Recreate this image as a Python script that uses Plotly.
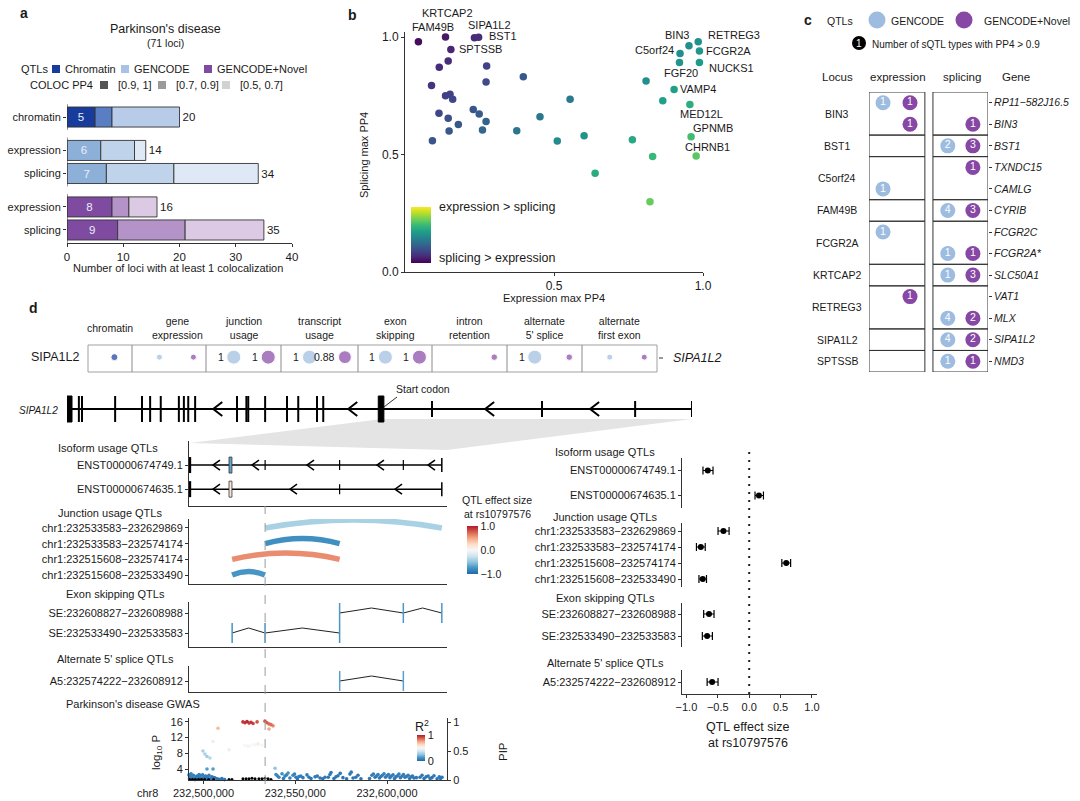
import plotly.graph_objects as go

W, H = 1080, 801
FONT = "Liberation Sans, Arial, Helvetica, sans-serif"
INK = "#1a1a1a"
AXC = "#333333"

# ======================= DATA =======================
# ---- panel a : loci with >=1 colocalization
a_rows = ["chromatin", "expression", "splicing", "expression", "splicing"]
a_qtl = ["Chromatin", "GENCODE", "GENCODE", "GENCODE+Novel", "GENCODE+Novel"]
a_pp4_09_1 = [5, 6, 7, 8, 9]
a_pp4_07_09 = [3, 6, 12, 3, 12]
a_pp4_05_07 = [12, 2, 15, 5, 14]
a_xticks = [0, 10, 20, 30, 40]
a_pp4_bins = ["[0.9, 1]", "[0.7, 0.9]", "[0.5, 0.7]"]

# ---- panel b : expression vs splicing max PP4
b_expr_pp4 = [0.045, 0.136, 0.154, 0.233, 0.247, 0.145, 0.115, 0.274, 0.272, 0.397,
              0.089, 0.136, 0.151, 0.160, 0.554, 0.229, 0.249, 0.114, 0.145, 0.272,
              0.453, 0.179, 0.148, 0.260, 0.375, 0.092, 0.511, 0.601, 0.763, 0.638,
              0.831, 0.822, 0.977, 0.960, 0.956, 0.865, 0.903, 0.809, 0.921, 0.988,
              0.923, 0.953, 0.984, 0.988]
b_spl_pp4 = [0.980, 1.000, 0.947, 0.997, 0.999, 0.898, 0.871, 0.877, 0.809, 0.831,
             0.794, 0.750, 0.756, 0.735, 0.735, 0.692, 0.672, 0.675, 0.654, 0.640,
             0.661, 0.628, 0.600, 0.604, 0.601, 0.559, 0.557, 0.580, 0.563, 0.420,
             0.491, 0.299, 0.494, 0.576, 0.713, 0.729, 0.777, 0.813, 0.892, 0.892,
             0.930, 0.963, 0.980, 0.940]
b_gene = (["FAM49B", "KRTCAP2", "SPTSSB", "SIPA1L2", "BST1"] + [""] * 27 +
          ["CHRNB1", "GPNMB", "MED12L", "", "VAMP4", "", "FGF20", "NUCKS1",
           "C5orf24", "BIN3", "RETREG3", "FCGR2A"])

# ---- panel c : number of sQTL types with PP4 > 0.9
c_gene = ["RP11\u2212582J16.5", "BIN3", "BST1", "TXNDC15", "CAMLG", "CYRIB", "FCGR2C",
          "FCGR2A*", "SLC50A1", "VAT1", "MLX", "SIPA1L2", "NMD3"]
c_locus = ["BIN3", "BIN3", "BST1", "C5orf24", "C5orf24", "FAM49B", "FCGR2A", "FCGR2A",
           "KRTCAP2", "RETREG3", "RETREG3", "SIPA1L2", "SPTSSB"]
c_expr_gencode = [1, None, None, None, 1, None, 1, None, None, None, None, None, None]
c_expr_novel = [1, 1, None, None, None, None, None, None, None, 1, None, None, None]
c_spl_gencode = [None, None, 2, None, None, 4, None, 1, 1, None, 4, 4, 1]
c_spl_novel = [None, 1, 3, 1, None, 3, None, 1, 3, None, 2, 2, 1]

# ---- panel d : SIPA1L2 colocalization by QTL type (PP4)
d_types = ["chromatin", "gene<br>expression", "junction<br>usage", "transcript<br>usage",
           "exon<br>skipping", "intron<br>retention", "alternate<br>5' splice", "alternate<br>first exon"]
d_pp4_chromatin = [0.3, None, None, None, None, None, None, None]
d_pp4_gencode = [None, 0.2, 1.0, 1.0, 1.0, None, 1.0, 0.2]
d_pp4_novel = [None, 0.2, 1.0, 0.88, 1.0, 0.25, 0.25, 0.2]

# gene model (relative position along SIPA1L2, 0-100)
gm_exons = [(0.0, 0.8), (1.9, 1.9), (2.4, 2.4), (7.7, 7.7), (12.0, 12.0), (13.3, 13.3),
            (15.0, 15.0), (17.9, 17.9), (18.7, 18.7), (19.4, 19.4), (20.5, 20.5),
            (27.2, 27.2), (28.7, 28.7), (29.0, 29.0), (31.7, 31.7), (35.2, 35.2),
            (37.0, 37.0), (40.0, 40.0), (41.0, 41.0), (49.8, 50.7), (58.4, 58.4),
            (76.0, 76.0), (90.9, 90.9), (100.0, 100.0)]
gm_start_codon = 50.7
gm_arrows = [23.4, 45.0, 66.9, 83.7]

# genomic window (chr1)
G0, G1 = 232492100, 232632700
iso_names = ["ENST00000674749.1", "ENST00000674635.1"]
iso_effect = [-0.66, 0.155]
iso_ci = [(-0.736, -0.576), (0.093, 0.227)]
iso_box = [(232513900, 232515500), (232513900, 232515500)]
iso_exons = [[232533583, 232574174, 232608900], [232574174]]
iso_end = [232629869, 232629869]
iso_arrows = [[232505180, 232526430, 232556400, 232594550, 232622340],
              [232505180, 232547140, 232604360]]

jx_names = ["chr1:232533583\u2212232629869", "chr1:232533583\u2212232574174",
            "chr1:232515608\u2212232574174", "chr1:232515608\u2212232533490"]
jx_start = [232533583, 232533583, 232515608, 232515608]
jx_end = [232629869, 232574174, 232574174, 232533490]
jx_effect = [-0.41, -0.77, 0.59, -0.74]
jx_ci = [(-0.496, -0.32), (-0.84, -0.70), (0.52, 0.66), (-0.80, -0.68)]

se_names = ["SE:232608827\u2212232608988", "SE:232533490\u2212232533583"]
se_exons = [[232574174, 232608900, 232629869], [232515608, 232533540, 232574174]]
se_effect = [-0.64, -0.67]
se_ci = [(-0.725, -0.56), (-0.746, -0.586)]

a5_names = ["A5:232574222\u2212232608912"]
a5_start = [232574222]
a5_end = [232608912]
a5_effect = [-0.59]
a5_ci = [(-0.67, -0.496)]

marker_pos = 232533583
lead_snp = 232528865
lead_snp_name = "rs10797576"

GWAS_REF = 232500000
gwas_kb = [21.5, 22.6, 23.7, 24.8, 25.9, 27.0, 29.2, 33.5, 34.6, 35.7, 36.8, 37.9, 35.7, 7.9,
           22.6, 24.3, 25.9, 28.1, 29.7, 31.9, 13.9, 5.2,
           -0.3, 0.8, 1.9, 3.5, 1.9, 5.2, 39.0,
           -7.9, -7.4, -6.8, -6.3, -5.2, -4.1, -3.0, -2.4, -1.9, -0.8, 0.3, 1.4, 2.5, 3.0, 4.1, 5.7, 7.4,
           39.5, 41.1, 42.8, 44.4, 46.1, 47.1, 48.8, 50.4, 52.0,
           54.2, 56.4, 58.6, 60.8, 63.5, 66.2, 68.9, 71.1, 73.3, 76.0, 79.8, 81.5, 84.2, 85.8,
           91.8, 93.5, 95.1, 96.7, 98.4, 100.0, 101.6, 103.3, 104.9, 106.5, 108.2, 109.8, 111.5, 113.1, 114.7,
           118.0, 120.2, 122.4, 124.5, 127.3, 130.0]
gwas_logp = [16.0, 15.8, 16.1, 15.7, 15.9, 15.6, 16.0, 16.2, 15.8, 15.5, 15.3, 15.0, 14.2, 14.4,
             10.0, 9.8, 10.1, 10.2, 10.4, 10.1, 8.9, 11.0,
             8.6, 7.8, 7.2, 6.8, 4.0, 4.0, 4.2,
             2.5, 1.8, 2.8, 2.2, 1.6, 2.0, 1.5, 2.6, 2.3, 1.7, 1.9, 1.4, 2.1, 2.4, 1.6, 1.8, 1.5,
             2.6, 1.9, 2.8, 2.2, 3.0, 1.7, 2.4, 1.9, 2.1,
             1.8, 2.5, 1.6, 2.0, 1.7, 1.9, 2.6, 1.6, 2.3, 1.8, 2.7, 1.7, 2.4, 1.5,
             2.4, 1.9, 2.6, 2.1, 2.8, 2.3, 1.8, 2.5, 2.0, 2.7, 2.2, 1.9, 2.4, 2.0, 1.7,
             1.9, 1.6, 2.2, 1.8, 1.5, 1.9]
gwas_r2 = [0.95, 0.95, 0.97, 0.93, 0.95, 0.92, 0.90, 0.90, 0.88, 0.85, 0.85, 0.80, 0.75, 0.70,
           0.50, 0.48, 0.50, 0.52, 0.55, 0.50, 0.45, 0.55,
           0.30, 0.30, 0.28, 0.32, 0.15, 0.15, 0.25,
           0.05, 0.05, 0.08, 0.08, 0.05, 0.06, 0.04, 0.07, 0.07, 0.05, 0.06, 0.04, 0.06, 0.07, 0.05, 0.05, 0.04,
           0.10, 0.08, 0.10, 0.08, 0.12, 0.06, 0.08, 0.06, 0.07,
           0.05, 0.06, 0.04, 0.05, 0.04, 0.05, 0.06, 0.04, 0.05, 0.04, 0.06, 0.04, 0.05, 0.04,
           0.06, 0.05, 0.07, 0.05, 0.08, 0.06, 0.05, 0.07, 0.05, 0.07, 0.06, 0.05, 0.06, 0.05, 0.04,
           0.05, 0.04, 0.05, 0.04, 0.04, 0.05]
# additional low-signal background SNPs
gwas_bg_kb = [-7.6, -7.1, -6.0, -5.5, -4.6, -3.5, -2.7, -1.4, -0.5, 0.6, 1.1, 2.0, 3.5, 4.6, 6.3, 8.5, 10.0, 11.5,
              40.2, 43.6, 45.3, 49.6, 51.2, 53.0,
              57.5, 62.0, 65.0, 68.0, 69.5, 72.2, 74.5, 78.0, 80.5, 83.0,
              90.5, 92.6, 94.3, 95.9, 97.5, 99.2, 100.8, 102.4, 104.1, 105.7, 107.3, 109.0, 110.6, 112.3, 113.9, 116.0,
              119.1, 121.3, 123.5, 125.6, 128.5, 129.2]
gwas_bg_logp = [1.5, 2.0, 1.7, 2.4, 1.3, 2.2, 1.9, 1.6, 2.5, 1.5, 2.2, 1.7, 1.4, 2.0, 1.7, 1.4, 1.6, 1.3,
                2.3, 1.6, 2.5, 2.7, 1.5, 2.2,
                1.9, 2.2, 1.5, 1.9, 3.1, 2.0, 2.9, 1.5, 3.2, 1.9,
                1.6, 2.7, 2.2, 1.7, 2.4, 1.9, 2.6, 2.2, 1.6, 2.3, 1.8, 2.6, 2.1, 1.6, 2.2, 1.8,
                2.4, 2.0, 1.6, 2.3, 2.0, 1.6]
gwas_bg_r2 = [0.05, 0.06, 0.05, 0.07, 0.04, 0.06, 0.05, 0.05, 0.07, 0.04, 0.06, 0.05, 0.04, 0.05, 0.05, 0.04, 0.04, 0.04,
              0.08, 0.06, 0.08, 0.07, 0.05, 0.06,
              0.05, 0.05, 0.04, 0.05, 0.06, 0.05, 0.05, 0.04, 0.06, 0.05,
              0.05, 0.07, 0.06, 0.05, 0.07, 0.06, 0.07, 0.06, 0.05, 0.06, 0.05, 0.07, 0.06, 0.05, 0.05, 0.05,
              0.05, 0.05, 0.04, 0.05, 0.05, 0.04]
pip_kb = [-7.6, -6.0, -4.4, -2.7, -1.1, 0.6, 2.8, 5.5, 13.9, 15.5, 21.5, 23.2, 24.8, 26.4,
          28.1, 30.2, 31.9, 33.5, 35.2, 36.8]
pip_val = [0.01, 0.01, 0.01, 0.01, 0.01, 0.01, 0.01, 0.01, 0.01, 0.01, 0.02, 0.02, 0.02, 0.03,
           0.02, 0.02, 0.02, 0.03, 0.02, 0.01]
gwas_xticks = [232500000, 232550000, 232600000]
fp_xticks = [-1.0, -0.5, 0.0, 0.5, 1.0]

# ======================= HELPERS =======================
def X(p): return p / W
def Y(p): return 1 - p / H
def dom_x(a, b): return [a / W, b / W]
def dom_y(top, bot): return [1 - bot / H, 1 - top / H]

annotations, shapes = [], []

def text(x, y, s, size=11, xa="center", ya="middle", color=INK, **kw):
    annotations.append(dict(x=X(x), y=Y(y), xref="paper", yref="paper", text=s, showarrow=False,
                            xanchor=xa, yanchor=ya, font=dict(size=size, color=color, family=FONT), **kw))

def prect(x0, y0, x1, y1, fill, line=None, lw=0):
    shapes.append(dict(type="rect", xref="paper", yref="paper", x0=X(x0), x1=X(x1), y0=Y(y1), y1=Y(y0),
                       fillcolor=fill, line=dict(color=line or fill, width=lw)))

def vtick(xr, yr, x, y, half, color="black", width=1.5):
    shapes.append(dict(type="line", xref=xr, yref=yr, x0=x, x1=x, ysizemode="pixel", yanchor=y,
                       y0=-half, y1=half, line=dict(color=color, width=width)))

def chevron(xr, yr, x, y, w, h, width=1.5):
    shapes.append(dict(type="path", xref=xr, yref=yr, xsizemode="pixel", ysizemode="pixel",
                       xanchor=x, yanchor=y, path=f"M{w},{h} L0,0 L{w},{-h}",
                       line=dict(color="black", width=width)))

RDBU = ['#2166ac', '#4393c3', '#92c5de', '#d1e5f0', '#f7f7f7', '#fddbc7', '#f4a582', '#d6604d', '#b2182b']
RDBU_SCALE = [[i / 8, c] for i, c in enumerate(RDBU)]

def interp(v, lo, hi, cols=RDBU):
    t = min(1, max(0, (v - lo) / (hi - lo))) * (len(cols) - 1)
    i = min(int(t), len(cols) - 2)
    f = t - i
    a = [int(cols[i][k:k + 2], 16) for k in (1, 3, 5)]
    b = [int(cols[i + 1][k:k + 2], 16) for k in (1, 3, 5)]
    return "rgb(%d,%d,%d)" % tuple(round(a[j] + (b[j] - a[j]) * f) for j in range(3))

L = {}
def axbase(**kw):
    d = dict(showgrid=False, zeroline=False, linecolor=AXC, linewidth=1, tickcolor=AXC, ticklen=3,
             tickfont=dict(size=11, color=INK, family=FONT), showline=False, ticks="")
    d.update(kw)
    return d

def setax(n, xdom, ydom, xkw, ykw):
    xk, yk = ("xaxis", "yaxis") if n == 1 else (f"xaxis{n}", f"yaxis{n}")
    xr, yr = ("x", "y") if n == 1 else (f"x{n}", f"y{n}")
    L[xk] = axbase(domain=dom_x(*xdom), anchor=yr, **xkw)
    L[yk] = axbase(domain=dom_y(*ydom), anchor=xr, **ykw)

fig = go.Figure()

# ======================= PANEL A =======================
A_ROW_POS = [0, 1.45, 2.45, 3.9, 4.9]
A_GROUPS = [[0], [1, 2], [3, 4]]
A_COLORS = {"Chromatin": ["#173c9b", "#5a7ec3", "#b8cbe9"],
            "GENCODE": ["#8db0d9", "#bfd3ea", "#dfe9f5"],
            "GENCODE+Novel": ["#7e4ba1", "#b493c8", "#dccae5"]}
setax(1, (67, 292), (104, 243),
      dict(range=[0, 40], tickvals=a_xticks, showline=True, ticks="outside",
           tickfont=dict(size=11.5, color=INK, family=FONT)),
      dict(range=[5.465, -0.565], tickvals=A_ROW_POS, ticktext=a_rows, ticks="outside",
           tickfont=dict(size=11, color=INK, family=FONT)))
segs = [a_pp4_09_1, a_pp4_07_09, a_pp4_05_07]
totals = [sum(v) for v in zip(*segs)]
base = [0] * len(a_rows)
for k, seg in enumerate(segs):
    tr = dict(x=seg, y=A_ROW_POS, base=list(base), orientation="h", width=0.87,
              marker=dict(color=[A_COLORS[q][k] for q in a_qtl], line=dict(color="#333", width=0.9)),
              xaxis="x", yaxis="y", hoverinfo="skip", showlegend=False, cliponaxis=False)
    if k == 0:
        tr.update(text=[str(v) for v in seg], textposition="inside", insidetextanchor="middle",
                  textangle=0, textfont=dict(color="#e8eef8", size=11.5, family=FONT))
    if k == 2:
        tr.update(text=[str(t) for t in totals], textposition="outside", textangle=0,
                  textfont=dict(color=INK, size=11.5, family=FONT))
    fig.add_trace(go.Bar(**tr))
    base = [b + s for b, s in zip(base, seg)]
for g in A_GROUPS:
    shapes.append(dict(type="line", xref="x", yref="y", x0=0, x1=0,
                       y0=A_ROW_POS[g[0]] - 0.56, y1=A_ROW_POS[g[-1]] + 0.56,
                       line=dict(color=AXC, width=1)))
text(24, 13, "<b>a</b>", size=14)
text(165, 29, "Parkinson's disease", size=12.5)
text(165, 43, "(71 loci)", size=10.5)
text(178, 268, "Number of loci with at least 1 colocalization", size=11)
# legend
text(50, 69, "QTLs", size=11, xa="right")
leg_q = [("Chromatin", "#173c9b", 52), ("GENCODE", "#a7c2e2", 121), ("GENCODE+Novel", "#7e4ba1", 204)]
for name, col, x0 in leg_q:
    prect(x0, 65, x0 + 8, 73, col)
    text(x0 + 11, 69, name, size=11, xa="left")
text(95, 85, "COLOC PP4", size=11, xa="right")
for name, col, x0 in zip(a_pp4_bins, ["#555555", "#9a9a9a", "#d2d2d2"], [100, 158, 222]):
    prect(x0, 81, x0 + 8, 89, col)
    text(x0 + 16, 85, name, size=11, xa="left")

# ======================= PANEL B =======================
setax(2, (405, 703), (32.3, 272),
      dict(range=[0, 1], tickvals=[0.5, 1.0], ticktext=["0.5", "1.0"], showline=True, ticks="outside",
           tickfont=dict(size=12, color=INK, family=FONT)),
      dict(range=[0, 1.02], tickvals=[0, 0.5, 1.0], ticktext=["0.0", "0.5", "1.0"], showline=True,
           ticks="outside", tickfont=dict(size=12, color=INK, family=FONT)))
b_col = [e - s for e, s in zip(b_expr_pp4, b_spl_pp4)]
fig.add_trace(go.Scatter(
    x=b_expr_pp4, y=b_spl_pp4, mode="markers", xaxis="x2", yaxis="y2", cliponaxis=False,
    hoverinfo="skip", showlegend=False,
    marker=dict(size=7.5, color=b_col, colorscale="Viridis", cmin=-1, cmax=1,
                colorbar=dict(x=X(411), xanchor="left", xpad=0, y=Y(263), yanchor="bottom", ypad=0,
                              len=56, lenmode="pixels", thickness=20, showticklabels=False, ticks="",
                              outlinewidth=0))))
B_LABEL_POS = {"FAM49B": ("center", 15, 15), "KRTCAP2": ("center", 2, 24), "SIPA1L2": ("center", 15, 13),
               "BST1": ("left", 8, 1), "SPTSSB": ("left", 6, 0), "BIN3": ("center", -12, 11),
               "RETREG3": ("left", 8, 7), "C5orf24": ("right", -4, 3), "FCGR2A": ("left", 5, 0),
               "FGF20": ("center", 2, -11), "NUCKS1": ("left", 8, -6), "VAMP4": ("left", 4, 0),
               "MED12L": ("center", 12, -10), "GPNMB": ("center", 22, 9), "CHRNB1": ("center", 11, 9)}
for g, xv, yv in zip(b_gene, b_expr_pp4, b_spl_pp4):
    if g:
        xa, dx, dy = B_LABEL_POS[g]
        annotations.append(dict(x=xv, y=yv, xref="x2", yref="y2", text=g, showarrow=False, xanchor=xa,
                                xshift=dx, yshift=dy, font=dict(size=11, color=INK, family=FONT)))
text(437, 207, "expression > splicing", size=12.5, xa="left")
text(437, 258, "splicing > expression", size=12.5, xa="left")
text(352, 15, "<b>b</b>", size=14)
text(554, 298, "Expression max PP4", size=11)
text(364, 155, "Splicing max PP4", size=11, textangle=-90)

# ======================= PANEL C =======================
C_COL_POS = {"expr_g": 0.0, "expr_n": 1.0, "spl_g": 2.4, "spl_n": 3.33}
C_BOX_X = [(-0.52, 1.55), (1.85, 3.89)]
C_TOP, C_BOT = 92, 372
C_BLUE, C_PURPLE = "#9dbcdf", "#8647a5"
setax(3, (869, 988), (C_TOP, C_BOT),
      dict(range=[-0.52, 3.89], visible=False),
      dict(range=[len(c_gene) - 0.5, -0.5], side="right", tickvals=list(range(len(c_gene))),
           ticktext=[f"<i>{g}</i>" for g in c_gene], ticks="outside",
           tickfont=dict(size=10.5, color=INK, family=FONT)))
loci = []
for i, l in enumerate(c_locus):
    if not loci or loci[-1][0] != l:
        loci.append([l, i, i])
    else:
        loci[-1][2] = i
row_h = (C_BOT - C_TOP) / len(c_gene)
for l, i0, i1 in loci:
    for bx0, bx1 in C_BOX_X:
        shapes.append(dict(type="rect", xref="x3", yref="y3", x0=bx0, x1=bx1, y0=i0 - 0.5, y1=i1 + 0.5,
                           line=dict(color=AXC, width=1), fillcolor="rgba(0,0,0,0)"))
    text(837, C_TOP + ((i0 + i1) / 2 + 0.5) * row_h, l, size=10.5)
for key, vals, col in [("expr_g", c_expr_gencode, C_BLUE), ("expr_n", c_expr_novel, C_PURPLE),
                       ("spl_g", c_spl_gencode, C_BLUE), ("spl_n", c_spl_novel, C_PURPLE)]:
    idx = [i for i, v in enumerate(vals) if v is not None]
    fig.add_trace(go.Scatter(x=[C_COL_POS[key]] * len(idx), y=idx, text=[str(vals[i]) for i in idx],
                             mode="markers+text", xaxis="x3", yaxis="y3", cliponaxis=False,
                             marker=dict(size=15, color=col), textposition="middle center",
                             textfont=dict(size=10.5, color="white", family=FONT),
                             hoverinfo="skip", showlegend=False))
text(808, 20, "<b>c</b>", size=14)
text(840, 21, "QTLs", size=10.5)
for cx, col, lab, lx in [(877, C_BLUE, "GENCODE", 917), (964, C_PURPLE, "GENCODE+Novel", 1027)]:
    shapes.append(dict(type="circle", xref="paper", yref="paper", x0=X(cx - 8.5), x1=X(cx + 8.5),
                       y0=Y(20 + 8.5), y1=Y(20 - 8.5), fillcolor=col, line=dict(width=0)))
    text(lx, 21, lab, size=10.5)
shapes.append(dict(type="circle", xref="paper", yref="paper", x0=X(852), x1=X(866), y0=Y(50), y1=Y(36),
                   fillcolor="black", line=dict(width=0)))
text(859, 43, "1", size=10, color="white")
text(870, 44, "Number of sQTL types with PP4 > 0.9", size=10, xa="left")
for lab, x in [("Locus", 837), ("expression", 898), ("splicing", 962), ("Gene", 1016)]:
    text(x, 77, lab, size=11.5)

# ======================= PANEL D top row =======================
D_EDGES = [88, 132, 206, 281, 358, 432, 507, 582, 657]
D_FRAC = {"chromatin": 0.6, "gencode": 0.37, "novel": 0.83}
setax(4, (88, 657), (345, 372), dict(range=[88, 657], visible=False), dict(range=[0, 1], visible=False))
shapes.append(dict(type="rect", xref="paper", yref="paper", x0=X(88), x1=X(657), y0=Y(372), y1=Y(345),
                   line=dict(color="#a0a0a0", width=1)))
for e in D_EDGES[1:-1]:
    shapes.append(dict(type="line", xref="paper", yref="paper", x0=X(e), x1=X(e), y0=Y(372), y1=Y(345),
                       line=dict(color="#8a8a8a", width=1)))
for i, t in enumerate(d_types):
    text((D_EDGES[i] + D_EDGES[i + 1]) / 2 + (8 if i == 1 else 0), 328, t, size=10.5)
for key, vals, col in [("chromatin", d_pp4_chromatin, "#173c9b"), ("gencode", d_pp4_gencode, C_BLUE),
                       ("novel", d_pp4_novel, C_PURPLE)]:
    idx = [i for i, v in enumerate(vals) if v is not None]
    xs = [D_EDGES[i] + D_FRAC[key] * (D_EDGES[i + 1] - D_EDGES[i]) for i in idx]
    fig.add_trace(go.Scatter(x=xs, y=[0.55] * len(idx), mode="markers", xaxis="x4", yaxis="y4",
                             marker=dict(size=[4 + 10 * vals[i] for i in idx], color=col),
                             cliponaxis=False, hoverinfo="skip", showlegend=False))
    for i, xv in zip(idx, xs):
        if vals[i] >= 0.8:
            annotations.append(dict(x=xv, y=0.55, xref="x4", yref="y4", text=f"{vals[i]:g}",
                                    showarrow=False, xanchor="right", xshift=-8,
                                    font=dict(size=10.5, color=INK, family=FONT)))
text(33, 308, "<b>d</b>", size=14)
text(55, 357, "SIPA1L2", size=12.5)
shapes.append(dict(type="line", xref="paper", yref="paper", x0=X(659), x1=X(663), y0=Y(358), y1=Y(358),
                   line=dict(color=AXC, width=1)))
text(671, 358, "<i>SIPA1L2</i>", size=12.5, xa="left")

# ---- zoom polygon
shapes.append(dict(type="path", xref="paper", yref="paper", layer="below",
                   path=f"M{X(382)},{Y(419)} L{X(692)},{Y(419)} L{X(447)},{Y(450)} L{X(190)},{Y(443)} Z",
                   fillcolor="#e4e4e4", line=dict(width=0)))

# ---- gene model
setax(5, (67, 692), (395, 423), dict(range=[0, 100], visible=False), dict(range=[-1, 1], visible=False))
shapes.append(dict(type="line", xref="x5", yref="y5", x0=gm_exons[0][0], x1=gm_exons[-1][1], y0=0, y1=0,
                   line=dict(color="black", width=2)))
for s, e in gm_exons:
    half = 13 if e <= gm_start_codon else 8
    if e > s:
        shapes.append(dict(type="rect", xref="x5", yref="y5", x0=s, x1=e, ysizemode="pixel", yanchor=0,
                           y0=-half, y1=half, fillcolor="black", line=dict(color="black", width=1)))
    else:
        vtick("x5", "y5", s, 0, half, width=2)
for a in gm_arrows:
    chevron("x5", "y5", a, 0, 9, 7, width=2)
shapes.append(dict(type="line", xref="x5", yref="y5", x0=gm_start_codon, x1=gm_start_codon + 2.1,
                   ysizemode="pixel", yanchor=0, y0=2, y1=12, line=dict(color="#333", width=1)))
annotations.append(dict(x=gm_start_codon + 1.6, y=0, xref="x5", yref="y5", yshift=20, xanchor="left",
                        text="Start codon", showarrow=False, font=dict(size=10.5, color=INK, family=FONT)))
text(60, 410, "<i>SIPA1L2</i>", size=10, xa="right")

# ======================= PANEL D lower-left (genomic) =======================
GX = (189, 447)
lab_font = dict(size=11, color=INK, family=FONT)
setax(6, GX, (441, 506), dict(range=[G0, G1], showline=True, showticklabels=False),
      dict(range=[1.7, -1.0], tickvals=[0, 1], ticktext=iso_names, showline=True, ticks="outside", tickfont=lab_font))
setax(7, GX, (519, 584), dict(range=[G0, G1], showline=True, showticklabels=False),
      dict(range=[3.57, -0.57], tickvals=list(range(4)), ticktext=jx_names, showline=True, ticks="outside", tickfont=lab_font))
setax(8, GX, (602, 647), dict(range=[G0, G1], showline=True, showticklabels=False),
      dict(range=[1.7, -0.55], tickvals=[0, 1], ticktext=se_names, showline=True, ticks="outside", tickfont=lab_font))
setax(9, GX, (666, 692), dict(range=[G0, G1], showline=True, showticklabels=False),
      dict(range=[0.55, -0.75], tickvals=[0], ticktext=a5_names, showline=True, ticks="outside", tickfont=lab_font))
setax(10, GX, (718, 780),
      dict(range=[G0, G1], showline=True, ticks="outside", tickvals=gwas_xticks,
           ticktext=[f"{v:,}" for v in gwas_xticks], tickfont=lab_font),
      dict(range=[1.2, 17], tickvals=[4, 8, 12, 16], showline=True, ticks="outside", tickfont=lab_font))
L["yaxis15"] = axbase(domain=dom_y(718, 780), anchor="x10", overlaying="y10", side="right", range=[0, 1.069],
                      tickvals=[0, 0.5, 1], ticktext=["0", "0.5", "1"], showline=True, ticks="outside",
                      tickfont=lab_font)

# isoforms
for r in range(len(iso_names)):
    shapes.append(dict(type="line", xref="x6", yref="y6", x0=G0, x1=iso_end[r], y0=r, y1=r,
                       line=dict(color="black", width=1.5)))
    vtick("x6", "y6", G0 + 500, r, 8, width=2.5)
    for ex in iso_exons[r]:
        vtick("x6", "y6", ex, r, 5, width=1.2)
    vtick("x6", "y6", iso_end[r], r, 7, width=1.5)
    for a in iso_arrows[r]:
        chevron("x6", "y6", a, r, 7, 5, width=1.5)
    shapes.append(dict(type="rect", xref="x6", yref="y6", x0=iso_box[r][0], x1=iso_box[r][1],
                       ysizemode="pixel", yanchor=r, y0=-8, y1=8,
                       fillcolor=interp(iso_effect[r], -1, 1), line=dict(color="#333", width=0.8)))
text(108, 448, "Isoform usage QTLs")

# junctions
for r in range(len(jx_names)):
    s, e = jx_start[r], jx_end[r]
    h = 0.052 * ((e - s) / 1000) ** 0.5
    shapes.append(dict(type="path", xref="x7", yref="y7",
                       path=f"M{s},{r} Q{(s + e) / 2},{r - 2 * h} {e},{r}",
                       line=dict(color=interp(jx_effect[r], -1, 1), width=5.5)))
fig.add_trace(go.Scatter(
    x=[(s + e) / 2 for s, e in zip(jx_start, jx_end)], y=list(range(len(jx_names))), mode="markers",
    xaxis="x7", yaxis="y7", hoverinfo="skip", showlegend=False,
    marker=dict(size=1, opacity=0, color=jx_effect, colorscale=RDBU_SCALE, cmin=-1, cmax=1,
                colorbar=dict(x=X(467), xanchor="left", xpad=0, y=Y(574), yanchor="bottom", ypad=0,
                              len=48, lenmode="pixels", thickness=11, tickvals=[-1, 0, 1],
                              ticktext=["\u22121.0", "0.0", "1.0"], ticks="", outlinewidth=0,
                              tickfont=dict(size=10.5, color=INK, family=FONT)))))
text(110, 513, "Junction usage QTLs")
text(497, 500, "QTL effect size", size=10.5)
text(497, 514, "at rs10797576", size=10.5)

# exon skipping
for r in range(len(se_names)):
    ex = se_exons[r]
    path = f"M{ex[0]},{r}"
    for a, b in zip(ex[:-1], ex[1:]):
        path += f" L{(a + b) / 2},{r - 0.25} L{b},{r}"
    shapes.append(dict(type="path", xref="x8", yref="y8", path=path, line=dict(color="#222", width=1)))
    for e in ex:
        vtick("x8", "y8", e, r, 10, color=interp(se_effect[r], -1, 1.6), width=1.5)
text(115, 594, "Exon skipping QTLs")

# alternate 5'
for r in range(len(a5_names)):
    s, e = a5_start[r], a5_end[r]
    shapes.append(dict(type="path", xref="x9", yref="y9", path=f"M{s},{r} L{(s + e) / 2},{r - 0.25} L{e},{r}",
                       line=dict(color="#222", width=1)))
    for v in (s, e):
        vtick("x9", "y9", v, r, 10, color=interp(a5_effect[r], -1, 1.6), width=1.5)
text(115, 659, "Alternate 5' splice QTLs")

# marker dashed line
shapes.append(dict(type="line", xref="x7", yref="paper", x0=marker_pos, x1=marker_pos, y0=Y(784), y1=Y(506),
                   line=dict(color="#9a9a9a", width=1, dash="dash")))

# GWAS
all_kb = gwas_bg_kb + gwas_kb
all_logp = gwas_bg_logp + gwas_logp
all_r2 = gwas_bg_r2 + gwas_r2
order = sorted(range(len(all_kb)), key=lambda i: all_r2[i])
fig.add_trace(go.Scatter(
    x=[GWAS_REF + all_kb[i] * 1000 for i in order], y=[all_logp[i] for i in order], mode="markers",
    xaxis="x10", yaxis="y10", hoverinfo="skip", showlegend=False, cliponaxis=False,
    marker=dict(size=3.6, color=[all_r2[i] for i in order], colorscale=RDBU_SCALE, cmin=0, cmax=1,
                colorbar=dict(x=X(417), xanchor="left", xpad=0, y=Y(761), yanchor="bottom", ypad=0,
                              len=26, lenmode="pixels", thickness=8, tickvals=[0, 1], ticks="",
                              outlinewidth=0, tickfont=dict(size=11, color=INK, family=FONT)))))
text(422, 726, "R<sup>2</sup>", size=12.5)
fig.add_trace(go.Scatter(x=[GWAS_REF + k * 1000 for k in pip_kb], y=pip_val, mode="markers",
                         xaxis="x10", yaxis="y15", marker=dict(size=3, color="black"),
                         hoverinfo="skip", showlegend=False, cliponaxis=False))
LEAD_Y = 19.0
fig.add_trace(go.Scatter(x=[lead_snp], y=[LEAD_Y], mode="markers", xaxis="x10", yaxis="y10",
                         marker=dict(symbol="diamond", size=10, color="#8e44ad", line=dict(color="#4a235a", width=1)),
                         cliponaxis=False, hoverinfo="skip", showlegend=False))
shapes.append(dict(type="line", xref="x10", yref="y10", xsizemode="pixel", xanchor=lead_snp, x0=5, x1=26,
                   y0=LEAD_Y + 0.6, y1=LEAD_Y + 0.6, line=dict(color="#222", width=1)))
annotations.append(dict(x=lead_snp, y=LEAD_Y + 0.6, xref="x10", yref="y10", xshift=28, xanchor="left",
                        text=f"Lead GWAS SNP {lead_snp_name}", showarrow=False,
                        font=dict(size=11, color=INK, family=FONT)))
text(133, 704, "Parkinson's disease GWAS")
text(157, 752, "log<sub>10</sub> P", size=11.5, textangle=-90)
text(503, 752, "PIP", size=11.5, textangle=-90)
text(147, 793, "chr8")

# ======================= FOREST PLOT =======================
FX = (682, 817)
fp_sets = [(11, (458, 508), iso_names, iso_effect, iso_ci, "Isoform usage QTLs", 452),
           (12, (523, 587), jx_names, jx_effect, jx_ci, "Junction usage QTLs", 517),
           (13, (603, 647), se_names, se_effect, se_ci, "Exon skipping QTLs", 598),
           (14, (670, 694), a5_names, a5_effect, a5_ci, "Alternate 5' splice QTLs", 663)]
for n, ydom, names, eff, ci, title, ty in fp_sets:
    last = n == 14
    xkw = dict(range=[-1.07, 1.08])
    if last:
        xkw.update(showline=True, ticks="outside", tickvals=fp_xticks,
                   ticktext=["\u22121.0", "\u22120.5", "0.0", "0.5", "1.0"], tickfont=lab_font)
    else:
        xkw.update(showticklabels=False)
    setax(n, FX, ydom, xkw,
          dict(range=[len(names) - 0.5, -0.5], tickvals=list(range(len(names))), ticktext=names,
               showline=True, ticks="outside", tickfont=lab_font))
    fig.add_trace(go.Scatter(
        x=eff, y=list(range(len(names))), mode="markers", xaxis=f"x{n}", yaxis=f"y{n}",
        marker=dict(size=6, color="black"), cliponaxis=False, hoverinfo="skip", showlegend=False,
        error_x=dict(type="data", symmetric=False, array=[c[1] - e for e, c in zip(eff, ci)],
                     arrayminus=[e - c[0] for e, c in zip(eff, ci)], color="black", thickness=1.2, width=4)))
    text(605, ty, title)
shapes.append(dict(type="line", xref="x14", yref="paper", x0=0, x1=0, y0=Y(694), y1=Y(450),
                   line=dict(color="#222", width=2, dash="2px,6px")))
text(748, 727, "QTL effect size", size=12.5)
text(748, 743, "at rs10797576", size=12.5)

fig.update_layout(width=W, height=H, margin=dict(l=0, r=0, t=0, b=0, pad=0, autoexpand=False), autosize=False,
                  paper_bgcolor="white", plot_bgcolor="white", barmode="overlay",
                  font=dict(family=FONT, color=INK, size=11), showlegend=False,
                  annotations=annotations, shapes=shapes, **L)
fig.write_html("out.html", config={"displayModeBar": False},
               post_script="document.body.style.margin='0px';document.body.style.overflow='hidden';")
